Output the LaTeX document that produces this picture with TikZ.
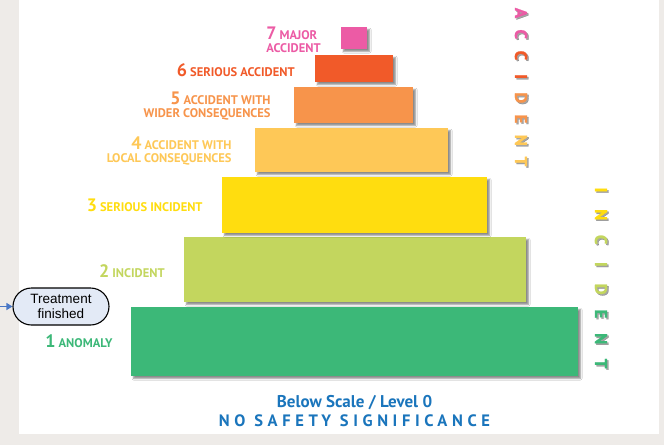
\documentclass[tikz,border=0pt]{standalone}
\usepackage{fontspec}
\setmainfont{PT Sans}
\newfontfamily\bubblefont{Liberation Sans}
\newfontfamily\widefont[LetterSpace=28]{PT Sans}
\newfontfamily\heavyfont[FakeBold=1.2]{PT Sans Bold}
\usetikzlibrary{positioning,shapes.misc,shadows.blur,arrows.meta}

\definecolor{pinklvl}{HTML}{EC5BA5}
\definecolor{redlvl}{HTML}{F15A29}
\definecolor{orangelvl}{HTML}{F7944B}
\definecolor{amberlvl}{HTML}{FEC857}
\definecolor{yellowlvl}{HTML}{FFDD0F}
\definecolor{limelvl}{HTML}{C3D65E}
\definecolor{greenlvl}{HTML}{3CB878}
\definecolor{scaleblue}{HTML}{1A75BC}
\definecolor{framegray}{HTML}{EEEBE8}
\definecolor{bubble}{HTML}{E3EAF6}
\definecolor{arrowblue}{HTML}{4A78C6}

\newcommand{\lvlno}[1]{{\fontsize{18}{12}\selectfont #1}\hspace{3pt}}

\tikzset{
  lvl/.style={rectangle,inner sep=0pt,
    blur shadow={shadow xshift=2.5pt,shadow yshift=-2.5pt,
      shadow blur steps=6,shadow blur radius=1.5pt,shadow opacity=45}},
  lvltext/.style={font=\bfseries\fontsize{12.5}{12}\selectfont,
    align=right,inner sep=0pt},
  vletter/.style={font=\heavyfont\fontsize{17}{17}\selectfont,
    rotate=-90,inner sep=0pt},
  treat/.style={rounded rectangle,draw=black,line width=1.1pt,fill=bubble,
    minimum width=98pt,minimum height=37pt,inner sep=1pt,align=center,
    font=\bubblefont\fontsize{13.5}{15}\selectfont},
  flow/.style={-{Triangle[width=7pt,length=6pt]},arrowblue,line width=1.3pt}
}

\begin{document}
\begin{tikzpicture}[x=1pt,y=-1pt]
  \useasboundingbox (0,0) rectangle (664,445);
  \fill[framegray] (0,0) rectangle (664,445);
  \fill[white] (19,0) rectangle (659,434);

  % pyramid levels, bottom to top
  \node [lvl,fill=greenlvl,minimum width=447pt,minimum height=69pt] (lv1) at (354.5,341.5) {};
  \node [lvl,fill=limelvl,minimum width=342pt,minimum height=65pt] (lv2) at (355,269.5) {};
  \node [lvl,fill=yellowlvl,minimum width=265pt,minimum height=56pt] (lv3) at (354.5,205) {};
  \node [lvl,fill=amberlvl,minimum width=193pt,minimum height=44pt] (lv4) at (351.5,150) {};
  \node [lvl,fill=orangelvl,minimum width=119pt,minimum height=36pt] (lv5) at (353.5,105) {};
  \node [lvl,fill=redlvl,minimum width=78pt,minimum height=27pt] (lv6) at (354,68.5) {};
  \node [lvl,fill=pinklvl,minimum width=26pt,minimum height=22pt] (lv7) at (354,38) {};

  \node [lvltext,text=greenlvl,left=18pt of lv1] (lb1) {\lvlno{1}ANOMALY};
  \node [lvltext,text=limelvl,left=19pt of lv2,yshift=-1.5pt] (lb2) {\lvlno{2}INCIDENT};
  \node [lvltext,text=yellowlvl,left=19pt of lv3] (lb3) {\lvlno{3}SERIOUS INCIDENT};
  \node [lvltext,text=amberlvl,left=23pt of lv4,yshift=-1pt] (lb4) {\lvlno{4}ACCIDENT WITH\\[1pt]LOCAL CONSEQUENCES};
  \node [lvltext,text=orangelvl,left=23pt of lv5,yshift=-1pt] (lb5) {\lvlno{5}ACCIDENT WITH\\[1pt]WIDER CONSEQUENCES};
  \node [lvltext,text=redlvl,left=20pt of lv6,yshift=-1.5pt] (lb6) {\lvlno{6}SERIOUS ACCIDENT};
  \node [lvltext,text=pinklvl,align=left,left=20pt of lv7,yshift=-2pt] (lb7) {\lvlno{7}MAJOR\\[1pt]ACCIDENT};

  \node [below=19pt of lv1,text=scaleblue,inner sep=0pt,
    font=\bfseries\fontsize{17}{18}\selectfont] (lv0) {Below Scale / Level 0};
  \node [below=4pt of lv0,text=scaleblue,inner sep=0pt,
    font=\widefont\bfseries\fontsize{16.5}{18}\selectfont] (nosig) {NO SAFETY SIGNIFICANCE};

  % vertical words with a soft shadow
  \foreach \ch/\col [count=\i from 0] in {A/pinklvl,C/pinklvl,C/redlvl,I/redlvl,
      D/orangelvl,E/orangelvl,N/amberlvl,T/amberlvl}{
    \node [vletter,text=black,text opacity=.35] at (522.5,14.5+21.2*\i) {\ch};
    \node [vletter,text=\col] (acc\i) at (521,13+21.2*\i) {\ch};
  }
  \foreach \ch/\col [count=\i from 0] in {I/yellowlvl,N/yellowlvl,C/limelvl,I/limelvl,
      D/limelvl,E/greenlvl,N/greenlvl,T/greenlvl}{
    \node [vletter,text=black,text opacity=.35] at (602.5,191.5+24.8*\i) {\ch};
    \node [vletter,text=\col] (inc\i) at (601,190+24.8*\i) {\ch};
  }

  \node [treat] (done) at (61,306.5) {Treatment\\finished};
  \coordinate (src) at (0,306.5);
  \draw [flow] (src) -- (done);
\end{tikzpicture}
\end{document}
